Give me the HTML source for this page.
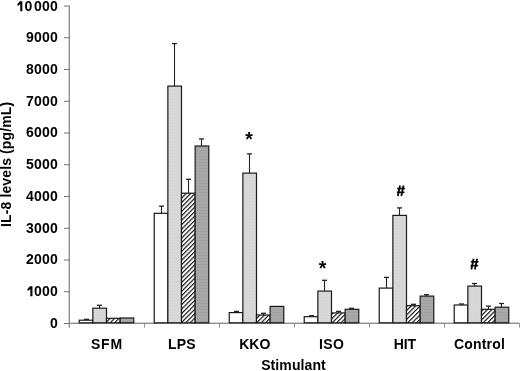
<!DOCTYPE html>
<html><head><meta charset="utf-8"><style>
html,body{margin:0;padding:0;background:#fff;}
body{width:520px;height:371px;overflow:hidden;}
svg{display:block;will-change:transform;}
text{font-family:"Liberation Sans",sans-serif;font-weight:bold;fill:#000;}
</style></head><body>
<svg width="520" height="371" viewBox="0 0 520 371">
<defs>
<pattern id="pLight" patternUnits="userSpaceOnUse" width="3" height="3">
<rect width="3" height="3" fill="#d8d8d8"/>
<rect width="1" height="1" fill="#d1d1d1"/>
</pattern>
<pattern id="pDark" patternUnits="userSpaceOnUse" width="3" height="3">
<rect width="3" height="3" fill="#a8a8a8"/>
<rect width="3" height="1" fill="#a1a1a1"/>
</pattern>
<pattern id="pHatch" patternUnits="userSpaceOnUse" x="1.02" y="0" width="3.1396" height="3.1396" patternTransform="rotate(45)">
<rect width="3.1396" height="3.1396" fill="#fff"/>
<rect x="0" y="0" width="1.15" height="3.1396" fill="#111"/>
</pattern>
</defs>
<rect width="520" height="371" fill="#fff"/>

<line x1="68.5" y1="6.0" x2="68.5" y2="327.5" stroke="#d2d2d2" stroke-width="1"/>
<line x1="69.5" y1="322.5" x2="519.5" y2="322.5" stroke="#d2d2d2" stroke-width="1"/>
<line x1="69.5" y1="6.0" x2="69.5" y2="327.5" stroke="#8e8e8e" stroke-width="1"/>
<line x1="69.5" y1="323.5" x2="519.5" y2="323.5" stroke="#8e8e8e" stroke-width="1"/>
<line x1="64" y1="323.50" x2="69.5" y2="323.50" stroke="#707070" stroke-width="1"/>
<text x="57.9" y="327.90" font-size="14" text-anchor="end" textLength="8">0</text>
<line x1="64" y1="291.75" x2="69.5" y2="291.75" stroke="#707070" stroke-width="1"/>
<path d="M32.45,286.15 L30.00,286.15 L27.50,288.95 L27.50,290.95 L30.35,289.15 L30.35,296.15 L32.45,296.15 Z" fill="#000"/>
<text x="57.9" y="296.15" font-size="14" text-anchor="end" textLength="24">000</text>
<line x1="64" y1="260.00" x2="69.5" y2="260.00" stroke="#707070" stroke-width="1"/>
<text x="57.9" y="264.40" font-size="14" text-anchor="end" textLength="32">2000</text>
<line x1="64" y1="228.25" x2="69.5" y2="228.25" stroke="#707070" stroke-width="1"/>
<text x="57.9" y="232.65" font-size="14" text-anchor="end" textLength="32">3000</text>
<line x1="64" y1="196.50" x2="69.5" y2="196.50" stroke="#707070" stroke-width="1"/>
<text x="57.9" y="200.90" font-size="14" text-anchor="end" textLength="32">4000</text>
<line x1="64" y1="164.75" x2="69.5" y2="164.75" stroke="#707070" stroke-width="1"/>
<text x="57.9" y="169.15" font-size="14" text-anchor="end" textLength="32">5000</text>
<line x1="64" y1="133.00" x2="69.5" y2="133.00" stroke="#707070" stroke-width="1"/>
<text x="57.9" y="137.40" font-size="14" text-anchor="end" textLength="32">6000</text>
<line x1="64" y1="101.25" x2="69.5" y2="101.25" stroke="#707070" stroke-width="1"/>
<text x="57.9" y="105.65" font-size="14" text-anchor="end" textLength="32">7000</text>
<line x1="64" y1="69.50" x2="69.5" y2="69.50" stroke="#707070" stroke-width="1"/>
<text x="57.9" y="73.90" font-size="14" text-anchor="end" textLength="32">8000</text>
<line x1="64" y1="37.75" x2="69.5" y2="37.75" stroke="#707070" stroke-width="1"/>
<text x="57.9" y="42.15" font-size="14" text-anchor="end" textLength="32">9000</text>
<line x1="64" y1="6.00" x2="69.5" y2="6.00" stroke="#707070" stroke-width="1"/>
<path d="M22.35,1.20 L19.90,1.20 L17.40,4.00 L17.40,6.00 L20.25,4.20 L20.25,11.20 L22.35,11.20 Z" fill="#000"/>
<text x="57.9" y="11.20" font-size="14" text-anchor="end" textLength="24">000</text>
<text x="24.5" y="11.20" font-size="14">0</text>
<line x1="69.5" y1="323.5" x2="69.5" y2="327.5" stroke="#8e8e8e" stroke-width="1"/>
<line x1="144.5" y1="323.5" x2="144.5" y2="327.5" stroke="#8e8e8e" stroke-width="1"/>
<line x1="219.5" y1="323.5" x2="219.5" y2="327.5" stroke="#8e8e8e" stroke-width="1"/>
<line x1="294.5" y1="323.5" x2="294.5" y2="327.5" stroke="#8e8e8e" stroke-width="1"/>
<line x1="369.5" y1="323.5" x2="369.5" y2="327.5" stroke="#8e8e8e" stroke-width="1"/>
<line x1="444.5" y1="323.5" x2="444.5" y2="327.5" stroke="#8e8e8e" stroke-width="1"/>
<line x1="519.5" y1="323.5" x2="519.5" y2="327.5" stroke="#8e8e8e" stroke-width="1"/>
<rect x="79.23" y="320.20" width="13.64" height="2.60" fill="#ffffff" stroke="#1a1a1a" stroke-width="1.2"/>
<rect x="92.86" y="308.20" width="13.64" height="14.60" fill="url(#pLight)" stroke="#1a1a1a" stroke-width="1.2"/>
<rect x="106.50" y="318.30" width="13.64" height="4.50" fill="url(#pHatch)" stroke="#1a1a1a" stroke-width="1.2"/>
<rect x="120.14" y="318.00" width="13.64" height="4.80" fill="url(#pDark)" stroke="#1a1a1a" stroke-width="1.2"/>
<line x1="86.50" y1="320.20" x2="86.50" y2="319.30" stroke="#222" stroke-width="1.1"/>
<line x1="84.00" y1="319.30" x2="89.00" y2="319.30" stroke="#222" stroke-width="1.3"/>
<line x1="99.50" y1="308.20" x2="99.50" y2="305.30" stroke="#222" stroke-width="1.1"/>
<line x1="97.00" y1="305.30" x2="102.00" y2="305.30" stroke="#222" stroke-width="1.3"/>
<rect x="154.23" y="213.30" width="13.64" height="109.50" fill="#ffffff" stroke="#1a1a1a" stroke-width="1.2"/>
<rect x="167.86" y="86.10" width="13.64" height="236.70" fill="url(#pLight)" stroke="#1a1a1a" stroke-width="1.2"/>
<rect x="181.50" y="193.20" width="13.64" height="129.60" fill="url(#pHatch)" stroke="#1a1a1a" stroke-width="1.2"/>
<rect x="195.14" y="146.00" width="13.64" height="176.80" fill="url(#pDark)" stroke="#1a1a1a" stroke-width="1.2"/>
<line x1="161.50" y1="213.30" x2="161.50" y2="206.20" stroke="#222" stroke-width="1.1"/>
<line x1="159.00" y1="206.20" x2="164.00" y2="206.20" stroke="#222" stroke-width="1.3"/>
<line x1="174.50" y1="86.10" x2="174.50" y2="43.60" stroke="#222" stroke-width="1.1"/>
<line x1="172.00" y1="43.60" x2="177.00" y2="43.60" stroke="#222" stroke-width="1.3"/>
<line x1="188.50" y1="193.20" x2="188.50" y2="179.30" stroke="#222" stroke-width="1.1"/>
<line x1="186.00" y1="179.30" x2="191.00" y2="179.30" stroke="#222" stroke-width="1.3"/>
<line x1="201.50" y1="146.00" x2="201.50" y2="138.90" stroke="#222" stroke-width="1.1"/>
<line x1="199.00" y1="138.90" x2="204.00" y2="138.90" stroke="#222" stroke-width="1.3"/>
<rect x="229.23" y="312.60" width="13.64" height="10.20" fill="#ffffff" stroke="#1a1a1a" stroke-width="1.2"/>
<rect x="242.86" y="173.10" width="13.64" height="149.70" fill="url(#pLight)" stroke="#1a1a1a" stroke-width="1.2"/>
<rect x="256.50" y="315.00" width="13.64" height="7.80" fill="url(#pHatch)" stroke="#1a1a1a" stroke-width="1.2"/>
<rect x="270.14" y="306.40" width="13.64" height="16.40" fill="url(#pDark)" stroke="#1a1a1a" stroke-width="1.2"/>
<line x1="236.50" y1="312.60" x2="236.50" y2="311.40" stroke="#222" stroke-width="1.1"/>
<line x1="234.00" y1="311.40" x2="239.00" y2="311.40" stroke="#222" stroke-width="1.3"/>
<line x1="249.50" y1="173.10" x2="249.50" y2="153.90" stroke="#222" stroke-width="1.1"/>
<line x1="247.00" y1="153.90" x2="252.00" y2="153.90" stroke="#222" stroke-width="1.3"/>
<line x1="263.50" y1="315.00" x2="263.50" y2="313.30" stroke="#222" stroke-width="1.1"/>
<line x1="261.00" y1="313.30" x2="266.00" y2="313.30" stroke="#222" stroke-width="1.3"/>
<rect x="304.23" y="316.70" width="13.64" height="6.10" fill="#ffffff" stroke="#1a1a1a" stroke-width="1.2"/>
<rect x="317.86" y="291.10" width="13.64" height="31.70" fill="url(#pLight)" stroke="#1a1a1a" stroke-width="1.2"/>
<rect x="331.50" y="312.90" width="13.64" height="9.90" fill="url(#pHatch)" stroke="#1a1a1a" stroke-width="1.2"/>
<rect x="345.14" y="309.30" width="13.64" height="13.50" fill="url(#pDark)" stroke="#1a1a1a" stroke-width="1.2"/>
<line x1="311.50" y1="316.70" x2="311.50" y2="315.70" stroke="#222" stroke-width="1.1"/>
<line x1="309.00" y1="315.70" x2="314.00" y2="315.70" stroke="#222" stroke-width="1.3"/>
<line x1="324.50" y1="291.10" x2="324.50" y2="280.30" stroke="#222" stroke-width="1.1"/>
<line x1="322.00" y1="280.30" x2="327.00" y2="280.30" stroke="#222" stroke-width="1.3"/>
<line x1="338.50" y1="312.90" x2="338.50" y2="311.40" stroke="#222" stroke-width="1.1"/>
<line x1="336.00" y1="311.40" x2="341.00" y2="311.40" stroke="#222" stroke-width="1.3"/>
<line x1="351.50" y1="309.30" x2="351.50" y2="308.30" stroke="#222" stroke-width="1.1"/>
<line x1="349.00" y1="308.30" x2="354.00" y2="308.30" stroke="#222" stroke-width="1.3"/>
<rect x="379.23" y="288.10" width="13.64" height="34.70" fill="#ffffff" stroke="#1a1a1a" stroke-width="1.2"/>
<rect x="392.86" y="215.40" width="13.64" height="107.40" fill="url(#pLight)" stroke="#1a1a1a" stroke-width="1.2"/>
<rect x="406.50" y="305.70" width="13.64" height="17.10" fill="url(#pHatch)" stroke="#1a1a1a" stroke-width="1.2"/>
<rect x="420.14" y="296.10" width="13.64" height="26.70" fill="url(#pDark)" stroke="#1a1a1a" stroke-width="1.2"/>
<line x1="386.50" y1="288.10" x2="386.50" y2="277.40" stroke="#222" stroke-width="1.1"/>
<line x1="384.00" y1="277.40" x2="389.00" y2="277.40" stroke="#222" stroke-width="1.3"/>
<line x1="399.50" y1="215.40" x2="399.50" y2="207.90" stroke="#222" stroke-width="1.1"/>
<line x1="397.00" y1="207.90" x2="402.00" y2="207.90" stroke="#222" stroke-width="1.3"/>
<line x1="413.50" y1="305.70" x2="413.50" y2="304.30" stroke="#222" stroke-width="1.1"/>
<line x1="411.00" y1="304.30" x2="416.00" y2="304.30" stroke="#222" stroke-width="1.3"/>
<line x1="426.50" y1="296.10" x2="426.50" y2="294.70" stroke="#222" stroke-width="1.1"/>
<line x1="424.00" y1="294.70" x2="429.00" y2="294.70" stroke="#222" stroke-width="1.3"/>
<rect x="454.23" y="305.00" width="13.64" height="17.80" fill="#ffffff" stroke="#1a1a1a" stroke-width="1.2"/>
<rect x="467.86" y="286.10" width="13.64" height="36.70" fill="url(#pLight)" stroke="#1a1a1a" stroke-width="1.2"/>
<rect x="481.50" y="309.30" width="13.64" height="13.50" fill="url(#pHatch)" stroke="#1a1a1a" stroke-width="1.2"/>
<rect x="495.14" y="307.20" width="13.64" height="15.60" fill="url(#pDark)" stroke="#1a1a1a" stroke-width="1.2"/>
<line x1="461.50" y1="305.00" x2="461.50" y2="304.00" stroke="#222" stroke-width="1.1"/>
<line x1="459.00" y1="304.00" x2="464.00" y2="304.00" stroke="#222" stroke-width="1.3"/>
<line x1="474.50" y1="286.10" x2="474.50" y2="283.50" stroke="#222" stroke-width="1.1"/>
<line x1="472.00" y1="283.50" x2="477.00" y2="283.50" stroke="#222" stroke-width="1.3"/>
<line x1="488.50" y1="309.30" x2="488.50" y2="306.10" stroke="#222" stroke-width="1.1"/>
<line x1="486.00" y1="306.10" x2="491.00" y2="306.10" stroke="#222" stroke-width="1.3"/>
<line x1="501.50" y1="307.20" x2="501.50" y2="303.50" stroke="#222" stroke-width="1.1"/>
<line x1="499.00" y1="303.50" x2="504.00" y2="303.50" stroke="#222" stroke-width="1.3"/>
<text x="106.5" y="348.8" font-size="14" text-anchor="middle" textLength="31.15">SFM</text>
<text x="181.7" y="348.8" font-size="14" text-anchor="middle" textLength="27.6">LPS</text>
<text x="254.75" y="348.8" font-size="14" text-anchor="middle" textLength="31.2">KKO</text>
<text x="331.5" y="348.8" font-size="14" text-anchor="middle" textLength="24.9">ISO</text>
<text x="404.85" y="348.8" font-size="14" text-anchor="middle" textLength="22.45">HIT</text>
<text x="479.4" y="348.8" font-size="14" text-anchor="middle" textLength="51.0">Control</text>
<text x="293.45" y="370.4" font-size="14" text-anchor="middle" textLength="64.6">Stimulant</text>
<text transform="translate(11.1,164.4) rotate(-90)" font-size="14" text-anchor="middle" textLength="125">IL-8 levels (pg/mL)</text>
<text x="249.0" y="146.2" font-size="19.5" text-anchor="middle">*</text>
<text x="322.6" y="275.0" font-size="19.5" text-anchor="middle">*</text>
<line x1="400.00" y1="185.45" x2="397.80" y2="196.05" stroke="#000" stroke-width="1.8"/>
<line x1="403.50" y1="185.45" x2="401.30" y2="196.05" stroke="#000" stroke-width="1.8"/>
<line x1="397.30" y1="188.55" x2="404.90" y2="188.55" stroke="#000" stroke-width="1.6"/>
<line x1="396.90" y1="192.35" x2="404.50" y2="192.35" stroke="#000" stroke-width="1.6"/>
<line x1="473.60" y1="258.75" x2="471.40" y2="269.35" stroke="#000" stroke-width="1.8"/>
<line x1="477.10" y1="258.75" x2="474.90" y2="269.35" stroke="#000" stroke-width="1.8"/>
<line x1="470.90" y1="261.85" x2="478.50" y2="261.85" stroke="#000" stroke-width="1.6"/>
<line x1="470.50" y1="265.65" x2="478.10" y2="265.65" stroke="#000" stroke-width="1.6"/>
</svg></body></html>
